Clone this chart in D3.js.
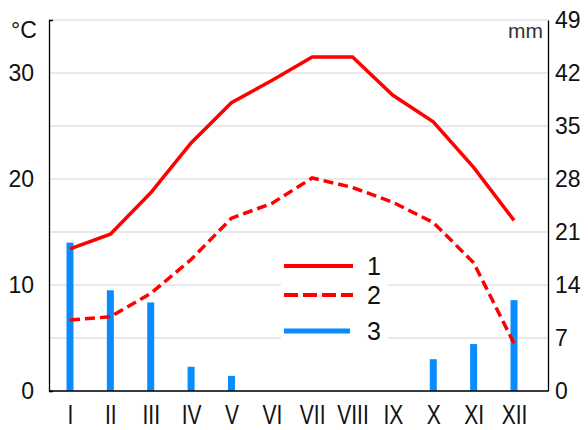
<!DOCTYPE html>
<html>
<head>
<meta charset="utf-8">
<script src="https://cdn.jsdelivr.net/npm/d3@7"></script>
<style>
    body { margin: 0; background: #fff; }
    svg { display: block; font-family: "Liberation Sans", Arial, sans-serif; }
    .grid line { stroke: #d3d3d3; stroke-width: 1; }
    .axis path, .axis line { stroke: #000; stroke-width: 1.3; }
    .axis text { fill: #111; }
    .line { fill: none; stroke: #ff0000; stroke-width: 3.5; }
    .line-dashed { stroke-dasharray: 10,5; }
    .bar { fill: #0a8cff; }
</style>
</head>
<body>
<div id="chart"></div>
<script>

var months = ["I", "II", "III", "IV", "V", "VI", "VII", "VIII", "IX", "X", "XI", "XII"];

// 1 - solid line, °C
var temp_1 = [13.4, 14.8, 18.7, 23.4, 27.2, 29.3, 31.5, 31.5, 27.9, 25.4, 21.1, 16.1];
// 2 - dashed line, °C
var temp_2 = [6.7, 7.0, 9.2, 12.4, 16.3, 17.7, 20.1, 19.2, 17.8, 15.9, 12.1, 4.5];
// 3 - bars, mm
var precip = [19.6, 13.3, 11.7, 3.2, 2.0, 0, 0, 0, 0, 4.2, 6.2, 12.0];

var temp_ticks = [0, 10, 20, 30];
var mm_ticks = [0, 7, 14, 21, 28, 35, 42, 49];
var legend_labels = ["1", "2", "3"];

var width = 588
    , height = 430
    , m_left = 49
    , m_right = 548
    , m_top = 20
    , m_bottom = 391
    ;

var svg = d3.select("#chart")
    .append("svg")
    .attr("width", width)
    .attr("height", height);

var x = d3.scalePoint()
    .domain(months)
    .range([70, 514]);

var yT = d3.scaleLinear()
    .domain([0, 35])
    .range([m_bottom, m_top]);

var yP = d3.scaleLinear()
    .domain([0, 49])
    .range([m_bottom, m_top]);

// grid lines, one per 7 mm
svg.append("g")
    .attr("class", "grid")
    .selectAll("line")
    .data(mm_ticks)
    .enter()
    .append("line")
    .attr("x1", m_left)
    .attr("x2", m_right)
    .attr("y1", function(d) { return yP(d); })
    .attr("y2", function(d) { return yP(d); });

// legend background hides the grid behind it
svg.append("rect")
    .attr("x", 281)
    .attr("y", 240)
    .attr("width", 107)
    .attr("height", 106)
    .attr("fill", "#fff");

svg.append("g")
    .selectAll("rect")
    .data(precip)
    .enter()
    .append("rect")
    .attr("class", "bar")
    .attr("x", function(d, i) { return x(months[i]) - 3.5; })
    .attr("width", 7)
    .attr("y", function(d) { return yP(d); })
    .attr("height", function(d) { return m_bottom - yP(d); });

var line = d3.line()
    .x(function(d, i) { return x(months[i]); })
    .y(function(d) { return yT(d); });

svg.append("path")
    .datum(temp_2)
    .attr("class", "line line-dashed")
    .attr("d", line);

svg.append("path")
    .datum(temp_1)
    .attr("class", "line")
    .attr("d", line);

// axes
var gLeft = svg.append("g")
    .attr("class", "axis")
    .attr("transform", "translate(" + m_left + ",0)")
    .call(d3.axisLeft(yT)
        .tickValues(temp_ticks)
        .tickSizeInner(0)
        .tickSizeOuter(-4)
        .tickPadding(15));

gLeft.selectAll("text")
    .style("font-size", "23px");

var gRight = svg.append("g")
    .attr("class", "axis")
    .attr("transform", "translate(" + m_right + ",0)")
    .call(d3.axisRight(yP)
        .tickValues(mm_ticks)
        .tickSizeInner(0)
        .tickSizeOuter(0)
        .tickPadding(7));

gRight.selectAll("text")
    .style("font-size", "23px");

var gBottom = svg.append("g")
    .attr("class", "axis")
    .attr("transform", "translate(0," + m_bottom + ")")
    .call(d3.axisBottom(x)
        .tickSizeInner(0)
        .tickSizeOuter(0)
        .tickPadding(0));

gBottom.select(".domain")
    .attr("d", "M" + m_left + ",0H" + m_right);

// roman numerals are narrow in the original
gBottom.selectAll("text")
    .attr("y", 33)
    .attr("dy", null)
    .attr("transform", "scale(0.75,1)")
    .style("font-size", "28px");

// units
svg.append("text")
    .attr("x", 11)
    .attr("y", 38)
    .style("font-size", "23px")
    .attr("fill", "#111")
    .text("°C");

svg.append("text")
    .attr("x", 543)
    .attr("y", 38)
    .attr("text-anchor", "end")
    .style("font-size", "21px")
    .attr("fill", "#333")
    .text("mm");

// legend
var legend = svg.append("g")
    .selectAll("g")
    .data(legend_labels)
    .enter()
    .append("g")
    .attr("transform", function(d, i) { return "translate(284," + [266, 295, 331][i] + ")"; });

legend.append("line")
    .attr("x1", 0)
    .attr("x2", function(d, i) { return i == 2 ? 66 : 69; })
    .attr("stroke", function(d, i) { return i == 2 ? "#0a8cff" : "#ff0000"; })
    .attr("stroke-width", function(d, i) { return i == 2 ? 5 : 4; })
    .attr("stroke-dasharray", function(d, i) { return i == 1 ? "14,5" : null; });

legend.append("text")
    .attr("x", 83)
    .attr("dy", "0.36em")
    .style("font-size", "25px")
    .attr("fill", "#111")
    .text(function(d) { return d; });

</script>
</body>
</html>
